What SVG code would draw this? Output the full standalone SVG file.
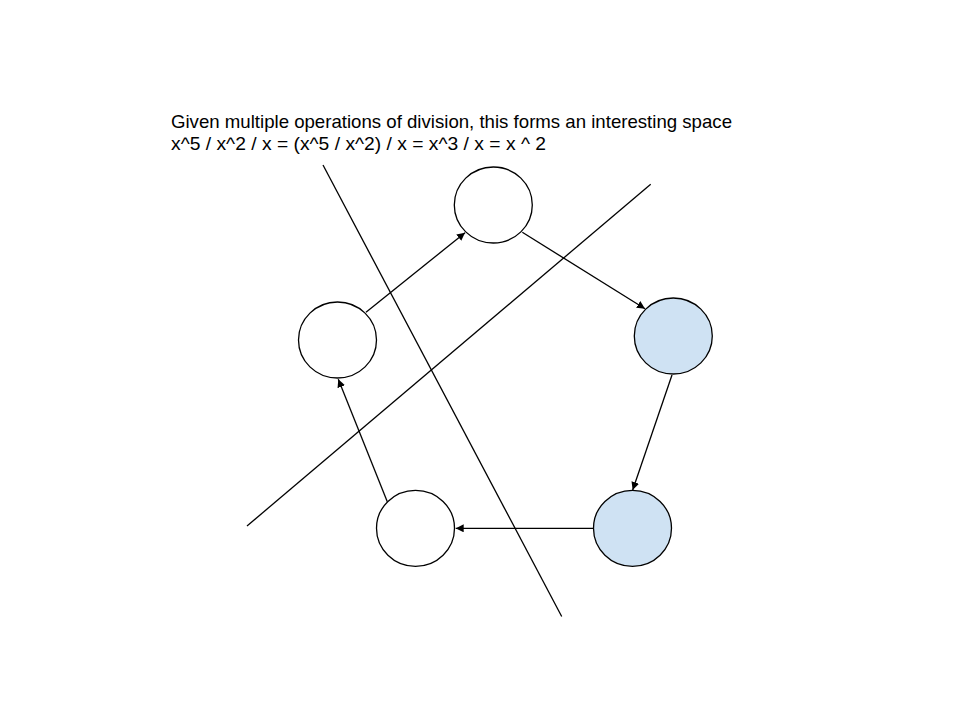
<svg xmlns="http://www.w3.org/2000/svg" width="960" height="720" viewBox="0 0 960 720">
<style>
.n{stroke:#000;stroke-width:1.3;fill:#fff}
.b{fill:#cfe2f3}
.c{stroke:#000;stroke-width:1.3;fill:none}
.t{font-family:"Liberation Sans",Arial,sans-serif;font-size:18.6px;fill:#000}
</style>
<defs>
<marker id="ah" viewBox="0 0 10 10" refX="10" refY="5" markerWidth="8" markerHeight="8" markerUnits="userSpaceOnUse" orient="auto">
<path d="M0,0 L10,5 L0,10 z" fill="#000"/>
</marker>
</defs>
<rect width="960" height="720" fill="#fff"/>
<g id="title">
<text class="t" x="171" y="128" textLength="561" lengthAdjust="spacingAndGlyphs">Given multiple operations of division, this forms an interesting space</text>
<text class="t" x="171" y="150" textLength="375" lengthAdjust="spacingAndGlyphs">x^5 / x^2 / x = (x^5 / x^2) / x = x^3 / x = x ^ 2</text>
</g>
<g id="nodes">
<g id="n-top"><ellipse class="n" cx="493.3" cy="205" rx="39" ry="38"/></g>
<g id="n-right"><ellipse class="n b" cx="673.3" cy="336" rx="39" ry="38"/></g>
<g id="n-bottomright"><ellipse class="n b" cx="632.5" cy="528.3" rx="39" ry="38"/></g>
<g id="n-bottomleft"><ellipse class="n" cx="415.5" cy="528.3" rx="39" ry="38"/></g>
<g id="n-left"><ellipse class="n" cx="337.5" cy="340" rx="39" ry="38"/></g>
</g>
<g id="connectors">
<line class="c" x1="366" y1="312.3" x2="465" y2="232.7" marker-end="url(#ah)"/>
<line class="c" x1="522.3" y1="232.3" x2="645" y2="308.7" marker-end="url(#ah)"/>
<line class="c" x1="672" y1="375" x2="632.7" y2="490" marker-end="url(#ah)"/>
<line class="c" x1="593.5" y1="528.3" x2="455.7" y2="528.3" marker-end="url(#ah)"/>
<line class="c" x1="387.3" y1="501.7" x2="338.3" y2="379.3" marker-end="url(#ah)"/>
</g>
<g id="lines">
<line class="c" x1="323" y1="165" x2="561.7" y2="616.5"/>
<line class="c" x1="650.7" y1="184.3" x2="247" y2="526"/>
</g>
</svg>
